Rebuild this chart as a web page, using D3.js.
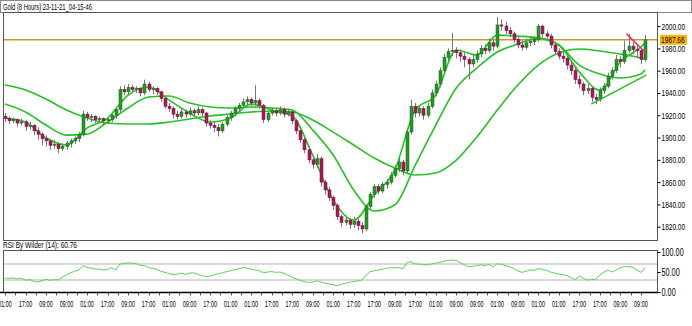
<!DOCTYPE html>
<html>
<head>
<meta charset="utf-8">
<script src="https://cdnjs.cloudflare.com/ajax/libs/d3/7.8.5/d3.min.js"></script>
<style>
body{margin:0;background:#fff;}
text{font-family:"Liberation Sans",Arial,sans-serif;font-size:9.5px;fill:#000;}
</style>
</head>
<body>
<div id="chart"></div>
<script>
// 8h candles, [open, high, low, close]
var candles = [
  [1919,1922,1914,1917],[1917,1919,1912,1915],[1915,1918,1913,1916],[1916,1917,1910,1913],[1913,1917,1911,1914],
  [1914,1916,1906,1910],[1910,1914,1907,1911],[1911,1912,1902,1906],[1906,1909,1898,1903],[1903,1905,1893,1899],
  [1899,1902,1892,1897],[1897,1899,1889,1893],[1893,1898,1890,1894],[1894,1896,1886,1890],[1890,1895,1888,1892],
  [1892,1897,1889,1895],[1895,1899,1891,1897],[1897,1901,1894,1899],[1899,1905,1896,1903],[1903,1924,1901,1921],
  [1921,1923,1915,1918],[1918,1921,1914,1919],[1919,1920,1913,1916],[1916,1919,1913,1917],[1917,1918,1911,1915],
  [1915,1918,1912,1916],[1916,1922,1914,1920],[1920,1927,1917,1925],[1925,1946,1923,1943],[1943,1947,1938,1941],
  [1941,1948,1939,1945],[1945,1947,1940,1943],[1943,1946,1940,1944],[1944,1945,1937,1940],[1940,1952,1938,1948],
  [1948,1950,1941,1943],[1943,1946,1939,1944],[1944,1945,1938,1941],[1941,1942,1932,1935],[1935,1937,1926,1928],
  [1928,1931,1923,1926],[1926,1928,1917,1921],[1921,1924,1916,1919],[1919,1926,1917,1923],[1923,1925,1918,1921],
  [1921,1927,1919,1924],[1924,1926,1919,1922],[1922,1928,1920,1925],[1925,1927,1919,1922],[1922,1923,1910,1913],
  [1913,1916,1908,1911],[1911,1914,1905,1909],[1909,1912,1901,1906],[1906,1914,1904,1912],[1912,1920,1910,1918],
  [1918,1924,1915,1922],[1922,1928,1919,1926],[1926,1931,1923,1929],[1929,1935,1927,1932],[1932,1937,1929,1934],
  [1934,1936,1928,1931],[1931,1947,1929,1933],[1933,1935,1926,1929],[1929,1930,1913,1916],[1916,1924,1914,1922],
  [1922,1927,1920,1924],[1924,1926,1919,1922],[1922,1928,1920,1925],[1925,1927,1918,1921],[1921,1926,1919,1923],
  [1923,1924,1912,1915],[1915,1917,1903,1906],[1906,1908,1895,1898],[1898,1900,1886,1889],[1889,1892,1877,1880],
  [1880,1883,1872,1876],[1876,1885,1873,1881],[1881,1883,1856,1860],[1860,1862,1849,1853],[1853,1856,1843,1846],
  [1846,1848,1835,1839],[1839,1841,1826,1829],[1829,1831,1820,1824],[1824,1830,1821,1826],[1826,1828,1818,1822],
  [1822,1829,1819,1825],[1825,1827,1817,1821],[1821,1824,1814,1818],[1818,1840,1816,1838],[1838,1851,1835,1849],
  [1849,1858,1846,1856],[1856,1858,1849,1852],[1852,1860,1850,1858],[1858,1863,1854,1860],[1860,1869,1858,1866],
  [1866,1875,1864,1872],[1872,1881,1869,1878],[1878,1880,1866,1870],[1870,1908,1868,1905],[1905,1934,1903,1928],
  [1928,1931,1918,1922],[1922,1929,1919,1926],[1926,1928,1916,1920],[1920,1931,1918,1928],[1928,1943,1926,1940],
  [1940,1951,1937,1948],[1948,1963,1945,1960],[1960,1975,1957,1972],[1972,1980,1969,1977],[1977,1994,1973,1978],
  [1978,1981,1971,1976],[1976,1979,1968,1973],[1973,1976,1963,1970],[1970,1972,1952,1966],[1966,1974,1963,1970],
  [1970,1978,1967,1975],[1975,1983,1972,1980],[1980,1984,1975,1978],[1978,1989,1976,1985],[1985,1988,1978,1982],
  [1982,2008,1980,2001],[2001,2006,1996,2000],[2000,2004,1993,1996],[1996,1999,1990,1993],[1993,1995,1985,1988],
  [1988,1990,1980,1983],[1983,1987,1978,1981],[1981,1989,1979,1985],[1985,1990,1982,1986],[1986,1991,1983,1988],
  [1988,2002,1986,2000],[2000,2001,1990,1993],[1993,1996,1988,1991],[1991,1993,1980,1983],[1983,1986,1974,1977],
  [1977,1980,1970,1973],[1973,1978,1967,1971],[1971,1973,1961,1965],[1965,1968,1956,1960],[1960,1963,1948,1952],
  [1952,1956,1944,1948],[1948,1950,1938,1942],[1942,1948,1939,1944],[1944,1946,1932,1936],[1936,1939,1930,1934],
  [1934,1945,1932,1942],[1942,1949,1939,1946],[1946,1958,1944,1955],[1955,1963,1952,1960],[1960,1974,1958,1970],
  [1970,1973,1963,1968],[1968,1987,1966,1978],[1978,1993,1976,1982],[1982,1986,1975,1979],[1979,1984,1971,1978],
  [1978,1980,1966,1970],[1970,1992,1968,1987.66]
];

// time labels, one every 5 bars
var labelTimes = ["01:00","17:00","09:00","09:00","01:00","17:00","09:00","17:00","01:00","09:00",
  "17:00","01:00","01:00","17:00","17:00","09:00","01:00","17:00","17:00","09:00",
  "17:00","01:00","09:00","09:00","01:00","09:00","01:00","01:00","17:00","17:00","09:00","09:00"];

// moving averages read at these bar indexes
var maIdx = [0,5,10,15,20,25,30,35,40,45,50,55,60,65,70,75,80,85,90,95,100,105,110,115,120,125,130,135,140,145,150,155,156];
var maFast = [1917.5,1913.9,1899.6,1893.3,1908.5,1917.5,1938.1,1945.3,1933.6,1922.0,1913.9,1917.5,1930.0,1924.7,1919.3,1884.3,
  1843.9,1826.0,1848.4,1870.9,1924.7,1938.1,1978.5,1974.0,1991.9,1991.0,1989.2,1983.0,1958.7,1942.6,1967.7,1981.2,1984.8];
var maMid = [1930.0,1922.9,1911.2,1902.2,1903.1,1913.9,1926.5,1936.3,1937.2,1930.9,1927.4,1926.5,1927.4,1926.5,1924.7,1906.7,
  1884.3,1852.9,1834.1,1839.5,1875.3,1911.2,1944.4,1962.3,1976.7,1983.9,1989.2,1983.0,1965.0,1957.0,1953.4,1957.0,1960.5];
var maSlow = [1947.1,1942.6,1934.5,1924.7,1917.5,1913.0,1912.1,1912.1,1913.9,1916.6,1919.3,1921.1,1922.9,1923.8,1922.9,1915.7,
  1904.9,1893.3,1881.6,1872.6,1866.4,1868.2,1879.8,1900.4,1924.7,1947.1,1965.0,1975.8,1979.4,1977.6,1974.9,1971.3,1970.4];

var rsi = [35,34,35,33,34,30,31,27,25,28,32,29,31,30,37,43,48,52,55,66,
  61,60,57,57,55,56,61,55,70,71,73,72,71,67,66,61,59,57,52,49,
  46,43,45,47,44,47,48,44,41,38,40,43,46,48,51,53,56,58,61,60,
  57,55,53,48,50,51,49,50,47,42,37,33,29,26,24,25,28,25,22,20,
  18,16,19,22,24,26,28,30,42,51,53,55,57,59,61,60,61,58,74,76,
  70,70,68,68,70,72,74,77,79,80,79,73,68,63,64,66,68,66,69,63,
  71,69,66,63,59,53,49,52,55,54,59,56,54,50,47,45,43,41,36,31,
  40,34,30,31,32,42,50,55,50,55,60,64,63,62,55,49,60.76];

var priceTicks = [1820,1840,1860,1880,1900,1920,1940,1960,1980,2000];
var rsiTicks = [0,50,100];
var rsiLevels = [30,70];
var lastPrice = 1987.66;
var lastRsi = 60.76;
var trendUp = [[142.9,1930],[156.3,1956]];
var trendDown = [[151.5,1993],[156.2,1976]];

var W = 692, H = 326;
var left = 3, right = 657, mainTop = 12, mainBot = 240, rsiTop = 250, rsiBot = 292;

// squeeze text to the narrow look of the terminal font
function narrow(sel, per, dot) {
  sel.attr("lengthAdjust", "spacingAndGlyphs")
    .attr("textLength", function() {
      var t = this.textContent, w = 0;
      for (var k = 0; k < t.length; k++) w += /[0-9]/.test(t[k]) ? per : dot;
      return w;
    });
}

var svg = d3.select("#chart").append("svg").attr("width", W).attr("height", H);

var x = d3.scaleLinear().domain([0, candles.length - 1]).range([5, 645]);
var y = d3.scaleLinear().domain([1808.1, 2012.6]).range([mainBot, mainTop]);
var yr = d3.scaleLinear().domain([0, 100]).range([rsiBot, rsiTop + 2]);

svg.append("clipPath").attr("id", "clipMain").append("rect")
  .attr("x", left + 1).attr("y", mainTop + 1).attr("width", right - left - 1).attr("height", mainBot - mainTop - 1);
svg.append("clipPath").attr("id", "clipRsi").append("rect")
  .attr("x", left + 1).attr("y", rsiTop + 1).attr("width", right - left - 1).attr("height", rsiBot - rsiTop - 1);

// title bar
svg.append("rect").attr("x", 0.5).attr("y", 0.5).attr("width", W - 1).attr("height", mainTop)
  .attr("fill", "none").attr("stroke", "#888");
svg.append("text").attr("x", 3).attr("y", 9.5)
  .attr("textLength", 89).attr("lengthAdjust", "spacingAndGlyphs")
  .text("Gold (8 Hours) 23-11-21_04-15-46");

// main panel frame
svg.append("rect").attr("x", left + 0.5).attr("y", mainTop + 0.5).attr("width", right - left).attr("height", mainBot - mainTop)
  .attr("fill", "none").attr("stroke", "#555");

var main = svg.append("g").attr("clip-path", "url(#clipMain)");

// last price line
main.append("line").attr("x1", left).attr("x2", right)
  .attr("y1", y(lastPrice)).attr("y2", y(lastPrice))
  .attr("stroke", "#c99a2e").attr("stroke-width", 1.5);

// moving averages
var maLine = d3.line()
  .x(function(d, i) { return x(maIdx[i]); })
  .y(function(d) { return y(d); })
  .curve(d3.curveMonotoneX);

[maSlow, maMid, maFast].forEach(function(s) {
  main.append("path").attr("d", maLine(s))
    .attr("fill", "none").attr("stroke", "#22c322").attr("stroke-width", 1.6);
});

// candles
var bar = main.append("g").selectAll("g").data(candles).enter().append("g");
bar.append("line")
  .attr("x1", function(d, i) { return Math.round(x(i)) + 0.5; })
  .attr("x2", function(d, i) { return Math.round(x(i)) + 0.5; })
  .attr("y1", function(d) { return y(d[1]); })
  .attr("y2", function(d) { return y(d[2]); })
  .attr("stroke", "#777").attr("stroke-width", 1);
bar.append("rect")
  .attr("x", function(d, i) { return Math.round(x(i)) - 1; })
  .attr("y", function(d) { return y(Math.max(d[0], d[3])); })
  .attr("width", 3)
  .attr("height", function(d) { return Math.max(1, Math.abs(y(d[0]) - y(d[3]))); })
  .attr("fill", function(d) { return d[3] >= d[0] ? "#1d9e1d" : "#b5145c"; })
  .attr("stroke", function(d) { return d[3] >= d[0] ? "#1c5f1c" : "#6d0f3a"; })
  .attr("stroke-width", 0.5);

// trend lines
var tLine = d3.line().x(function(d) { return x(d[0]); }).y(function(d) { return y(d[1]); });
main.append("path").attr("d", tLine(trendUp)).attr("fill", "none")
  .attr("stroke", "#22c322").attr("stroke-width", 1.6);
main.append("path").attr("d", tLine(trendDown)).attr("fill", "none")
  .attr("stroke", "#e8337a").attr("stroke-width", 1.5);

// price axis
var yAxis = d3.axisRight(y).tickValues(priceTicks).tickSize(3).tickFormat(d3.format(".2f"));
var ya = svg.append("g").attr("transform", "translate(" + (right + 0.5) + ",0)").call(yAxis);
ya.select(".domain").remove();
ya.selectAll("line").attr("stroke", "#000");
ya.selectAll("text").attr("x", 4).style("font-size", "9.5px").style("font-family", null).call(narrow, 3.6, 2);

svg.append("rect").attr("x", right + 3).attr("y", y(lastPrice) - 5).attr("width", 27).attr("height", 10)
  .attr("fill", "#ffb400");
svg.append("text").attr("x", right + 4).attr("y", y(lastPrice) + 3.4)
  .text(d3.format(".2f")(lastPrice)).call(narrow, 3.6, 2);

// RSI panel
svg.append("text").attr("x", 3).attr("y", 247.5)
  .attr("textLength", 74).attr("lengthAdjust", "spacingAndGlyphs")
  .text("RSI By Wilder (14): " + lastRsi.toFixed(2));
svg.append("rect").attr("x", left + 0.5).attr("y", rsiTop + 0.5).attr("width", right - left).attr("height", rsiBot - rsiTop)
  .attr("fill", "none").attr("stroke", "#555");

var rg = svg.append("g").attr("clip-path", "url(#clipRsi)");
rg.selectAll("line.lvl").data(rsiLevels).enter().append("line")
  .attr("x1", left).attr("x2", right)
  .attr("y1", function(d) { return yr(d); }).attr("y2", function(d) { return yr(d); })
  .attr("stroke", "#cfcfcf").attr("stroke-width", 1.5);
rg.append("path")
  .attr("d", d3.line().x(function(d, i) { return x(i); }).y(function(d) { return yr(d); })(rsi))
  .attr("fill", "none").attr("stroke", "#55d455").attr("stroke-width", 1);

var rAxis = d3.axisRight(yr).tickValues(rsiTicks).tickSize(3).tickFormat(d3.format(".2f"));
var ra = svg.append("g").attr("transform", "translate(" + (right + 0.5) + ",0)").call(rAxis);
ra.select(".domain").remove();
ra.selectAll("line").attr("stroke", "#000");
ra.selectAll("text").attr("x", 4).style("font-size", "10px").style("font-family", null).call(narrow, 4, 2.2);

// bottom time axis
svg.append("line").attr("x1", 0).attr("x2", right + 1).attr("y1", rsiBot + 0.5).attr("y2", rsiBot + 0.5)
  .attr("stroke", "#000").attr("stroke-width", 1.5);
var tickPos = d3.range(0, candles.length, 2.5);
svg.append("g").selectAll("line").data(tickPos).enter().append("line")
  .attr("x1", function(d) { return Math.round(x(d)) + 0.5; })
  .attr("x2", function(d) { return Math.round(x(d)) + 0.5; })
  .attr("y1", rsiBot + 1).attr("y2", rsiBot + 3.5)
  .attr("stroke", "#555");
svg.append("g").selectAll("text").data(labelTimes).enter().append("text")
  .attr("x", function(d, i) { return x(i * 5); })
  .attr("y", 307)
  .attr("text-anchor", "middle")
  .style("font-size", "9px")
  .text(function(d) { return d; })
  .call(narrow, 3, 1.6);
</script>
</body>
</html>
